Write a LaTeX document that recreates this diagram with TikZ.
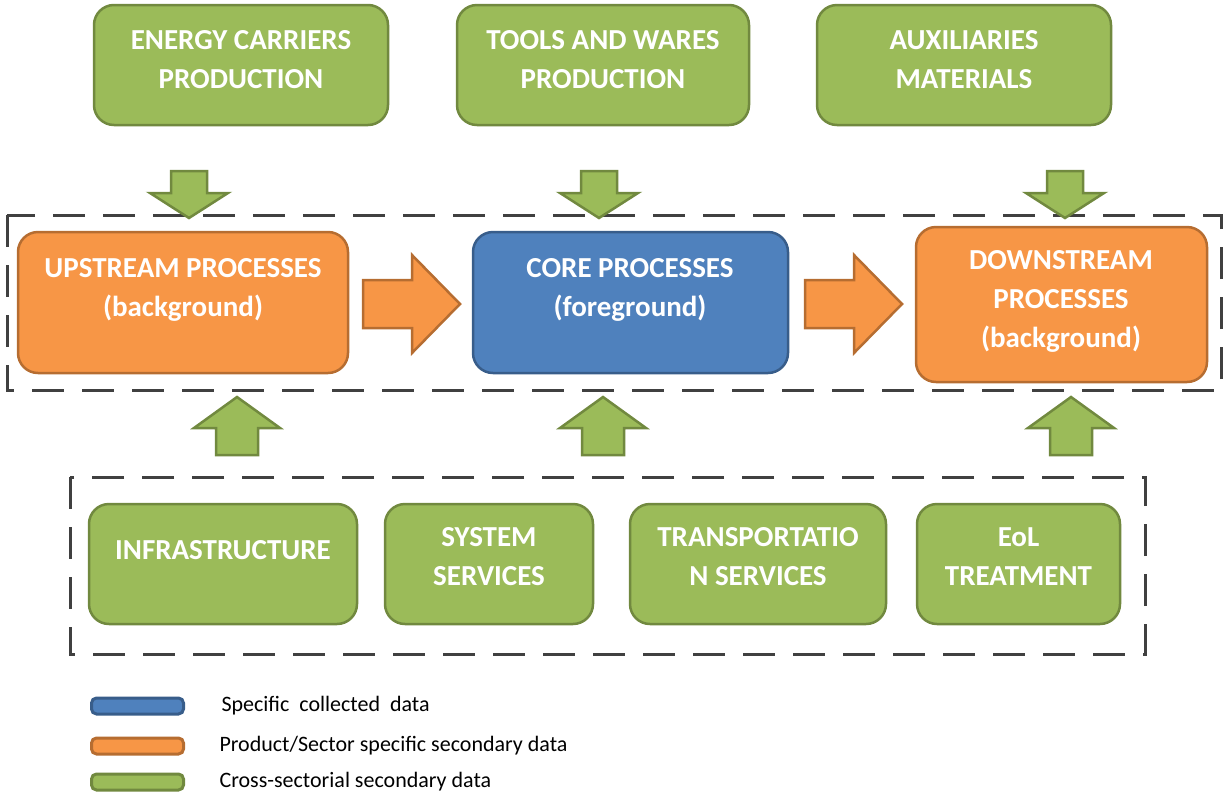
\documentclass[tikz,border=0pt]{standalone}
\usepackage{fontspec}
\setmainfont{Carlito}
\definecolor{gfill}{HTML}{9BBB59}
\definecolor{gline}{HTML}{71893F}
\definecolor{ofill}{HTML}{F79646}
\definecolor{oline}{HTML}{B66D31}
\definecolor{bfill}{HTML}{4F81BD}
\definecolor{bline}{HTML}{385D8A}
\definecolor{dline}{HTML}{404040}

\begin{document}
\begin{tikzpicture}[x=1pt,y=-1pt,
  box/.style={rounded corners=20pt,line width=2.5pt,inner sep=0pt},
  gbox/.style={box,fill=gfill,draw=gline},
  obox/.style={box,fill=ofill,draw=oline},
  bbox/.style={box,fill=bfill,draw=bline},
  txt/.style={text=white,align=center,font=\fontsize{29}{39}\selectfont\bfseries},
  garrow/.style={fill=gfill,draw=gline,line width=2.5pt,line join=miter},
  oarrow/.style={fill=ofill,draw=oline,line width=2.5pt,line join=miter},
  frame/.style={draw=dline,line width=3pt,dash pattern=on 32pt off 18pt},
  key/.style={rounded corners=5pt,line width=3pt,minimum width=92pt,minimum height=16pt,inner sep=0pt},
  keytxt/.style={anchor=west,font=\fontsize{22}{24}\selectfont}]
\useasboundingbox (0,0) rectangle (1223,796);

% dashed groups
\draw[frame] (7,215) rectangle (1221,390);
\draw[frame] (70,477) rectangle (1145,654);

% top row
\node[gbox,minimum width=294pt,minimum height=120pt] (energy) at (241,65) {};
\node[gbox,minimum width=292pt,minimum height=120pt] (tools) at (603,65) {};
\node[gbox,minimum width=294pt,minimum height=120pt] (aux) at (964,65) {};
\node[txt] (energy-t) at (241,59.5) {ENERGY CARRIERS\\PRODUCTION};
\node[txt] (tools-t) at (603,59.5) {TOOLS AND WARES\\PRODUCTION};
\node[txt] (aux-t) at (964,59.5) {AUXILIARIES\\MATERIALS};

% middle row
\node[obox,minimum width=330pt,minimum height=141pt] (up) at (183,302.5) {};
\node[bbox,minimum width=315pt,minimum height=141pt] (core) at (630.5,302.5) {};
\node[obox,minimum width=291pt,minimum height=155pt] (down) at (1061.5,304.5) {};
\node[txt] (up-t) at (183,289.5) {UPSTREAM PROCESSES\\(background)};
\node[txt] (core-t) at (630,289.5) {CORE PROCESSES\\(foreground)};
\node[txt] (down-t) at (1061,301) {DOWNSTREAM\\PROCESSES\\(background)};

% bottom row
\node[gbox,minimum width=268pt,minimum height=120pt] (infra) at (223,564) {};
\node[gbox,minimum width=208pt,minimum height=120pt] (sys) at (489,564) {};
\node[gbox,minimum width=256pt,minimum height=120pt] (trans) at (758,564) {};
\node[gbox,minimum width=203pt,minimum height=120pt] (eol) at (1018.5,564) {};
\node[txt] (infra-t) at (223,550) {INFRASTRUCTURE};
\node[txt] (sys-t) at (489,557) {SYSTEM\\SERVICES};
\node[txt] (trans-t) at (758,557) {TRANSPORTATIO\\N SERVICES};
\node[txt] (eol-t) at (1018.5,557) {EoL\\TREATMENT};

% block arrows
\foreach \x in {189,599,1065}
  \draw[garrow] (\x,171) ++(-18,0) -- ++(36,0) -- ++(0,22) -- ++(21,0) -- ++(-39,25) -- ++(-39,-25) -- ++(21,0) -- cycle;
\foreach \x in {237,603,1071}
  \draw[garrow] (\x,397) -- ++(43,31) -- ++(-22,0) -- ++(0,27) -- ++(-42,0) -- ++(0,-27) -- ++(-22,0) -- cycle;
\foreach \x in {363,805}
  \draw[oarrow] (\x,280) -- ++(49,0) -- ++(0,-25) -- ++(48,49) -- ++(-48,49) -- ++(0,-25) -- ++(-49,0) -- cycle;

% legend
\node[key,fill=bfill,draw=bline] (k1) at (137.5,706) {};
\node[key,fill=ofill,draw=oline] (k2) at (137.5,746) {};
\node[key,fill=gfill,draw=gline] (k3) at (137.5,782) {};
\node[keytxt] (k1-t) at (218,706) {Specific\ \ collected\ \ data};
\node[keytxt] (k2-t) at (216,746) {Product/Sector specific secondary data};
\node[keytxt] (k3-t) at (216,782) {Cross-sectorial secondary data};
\end{tikzpicture}
\end{document}
